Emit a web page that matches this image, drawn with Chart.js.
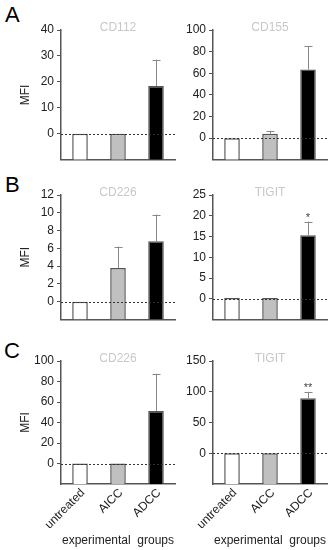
<!DOCTYPE html>
<html>
<head>
<meta charset="utf-8">
<script src="https://cdn.jsdelivr.net/npm/chart.js@4/dist/chart.umd.min.js"></script>
<style>
    body { margin: 0; background: #fff; }
    #fig { position: relative; width: 332px; height: 550px; overflow: hidden; font-family: "Liberation Sans", Arial, sans-serif; }
    .letter { position: absolute; font-size: 22px; line-height: 22px; color: #000; }
    .panel { position: absolute; }
</style>
</head>
<body>
<div id="fig">
    <div class="letter" style="left:5px;top:4px;">A</div>
    <div class="letter" style="left:5px;top:174px;">B</div>
    <div class="letter" style="left:4px;top:340px;">C</div>
    <div class="panel" style="left:0;top:0;width:180px;height:170px;"><canvas id="aLeft"></canvas></div>
    <div class="panel" style="left:180px;top:0;width:152px;height:170px;"><canvas id="aRight"></canvas></div>
    <div class="panel" style="left:0;top:170px;width:180px;height:170px;"><canvas id="bLeft"></canvas></div>
    <div class="panel" style="left:180px;top:170px;width:152px;height:170px;"><canvas id="bRight"></canvas></div>
    <div class="panel" style="left:0;top:340px;width:180px;height:210px;"><canvas id="cLeft"></canvas></div>
    <div class="panel" style="left:180px;top:340px;width:152px;height:210px;"><canvas id="cRight"></canvas></div>
</div>
<script>
const groups = ['untreated', 'AICC', 'ADCC'];
const barColors = ['#ffffff', '#c0c0c0', '#000000'];

// mean MFI and upper SD per group
const cd112Mean = [0, 0, 18.4];
const cd112Err = [0, 0, 10.2];
const cd155Mean = [0, 4.1, 63.4];
const cd155Err = [0, 2.7, 21.9];
const cd226Mean = [0, 3.8, 6.8];
const cd226Err = [0, 2.4, 3.0];
const tigitMean = [0.2, 0.2, 15.3];
const tigitErr = [0, 0, 3.3];
const cd226cMean = [0, 0, 51.2];
const cd226cErr = [0, 0, 36.4];
const tigitcMean = [0, 0, 89.3];
const tigitcErr = [0, 0, 10.7];

const tigitSig = ['', '', '*'];
const tigitcSig = ['', '', '**'];

const FONT = '"Liberation Sans", Arial, sans-serif';

const overlayPlugin = {
    id: 'overlay',
    afterDatasetsDraw(chart) {
        const { ctx, chartArea } = chart;
        const x = chart.scales.x;
        const y = chart.scales.y;
        const ds = chart.data.datasets[0];
        const meta = chart.getDatasetMeta(0);
        const po = chart.options.plugins.overlay;

        // dotted zero line
        const y0 = y.getPixelForValue(0);
        ctx.save();
        ctx.strokeStyle = '#333';
        ctx.lineWidth = 1;
        ctx.setLineDash([2, 2]);
        ctx.beginPath();
        ctx.moveTo(chartArea.left, Math.round(y0) + 0.5);
        ctx.lineTo(chartArea.right, Math.round(y0) + 0.5);
        ctx.stroke();
        ctx.setLineDash([]);

        // error bars
        ctx.strokeStyle = '#888';
        meta.data.forEach((bar, i) => {
            const err = ds.errors[i];
            const yTop = y.getPixelForValue(ds.data[i] + err);
            if (err > 0) {
                const bx = Math.round(bar.x) + 0.5;
                ctx.beginPath();
                ctx.moveTo(bx, bar.y);
                ctx.lineTo(bx, yTop);
                ctx.moveTo(bx - 4, Math.round(yTop) + 0.5);
                ctx.lineTo(bx + 4, Math.round(yTop) + 0.5);
                ctx.stroke();
            }
            if (ds.sig && ds.sig[i]) {
                ctx.fillStyle = '#444';
                ctx.font = '11px ' + FONT;
                ctx.textAlign = 'center';
                ctx.textBaseline = 'alphabetic';
                ctx.fillText(ds.sig[i], bar.x, yTop - 1);
            }
        });

        // slanted group labels
        if (po.slanted) {
            ctx.fillStyle = '#222';
            ctx.font = '12px ' + FONT;
            ctx.textAlign = 'right';
            ctx.textBaseline = 'middle';
            chart.data.labels.forEach((lab, i) => {
                ctx.save();
                ctx.translate(x.getPixelForTick(i) + 3, chartArea.bottom + 7);
                ctx.rotate(-Math.PI / 4);
                ctx.fillText(lab, 0, 0);
                ctx.restore();
            });
        }

        // panel title
        ctx.fillStyle = '#c8c8c8';
        ctx.font = '12px ' + FONT;
        ctx.textAlign = 'center';
        ctx.textBaseline = 'middle';
        ctx.fillText(po.title, (chartArea.left + chartArea.right) / 2, chartArea.top - 2.5);
        ctx.restore();
    },
};

function makePanel(canvasId, title, means, errors, sig, yMin, yMax, step, opts) {
    const canvas = document.getElementById(canvasId);
    return new Chart(canvas, {
        type: 'bar',
        data: {
            labels: groups,
            datasets: [{
                data: means,
                errors: errors,
                sig: sig,
                base: yMin,
                backgroundColor: barColors,
                borderColor: '#555',
                borderWidth: 1.5,
                categoryPercentage: 1,
                barPercentage: 0.41,
            }],
        },
        options: {
            responsive: true,
            maintainAspectRatio: false,
            animation: false,
            layout: {
                padding: { top: opts.padTop, right: 5, bottom: 0, left: 0 },
            },
            plugins: {
                legend: { display: false },
                tooltip: { enabled: false },
                overlay: { title: title, slanted: opts.showX },
            },
            scales: {
                x: {
                    grid: { display: false },
                    border: { display: true, color: '#555', width: 1.5 },
                    ticks: { display: false },
                    title: {
                        display: opts.showX,
                        text: 'experimental  groups',
                        color: '#222',
                        font: { family: FONT, size: 12 },
                        padding: { top: 2, bottom: 2 },
                    },
                    afterFit: (scale) => { scale.height = opts.xHeight; },
                },
                y: {
                    min: yMin,
                    max: yMax,
                    ticks: {
                        stepSize: step,
                        color: '#222',
                        font: { family: FONT, size: 12 },
                        padding: 3,
                    },
                    afterBuildTicks: (scale) => {
                        scale.ticks = scale.ticks.filter((t) => t.value >= 0);
                    },
                    grid: { display: true, drawOnChartArea: false, drawTicks: true, tickLength: 4, color: '#555' },
                    border: { display: true, color: '#555', width: 1.5 },
                    title: {
                        display: opts.showMfi,
                        text: 'MFI',
                        color: '#222',
                        font: { family: FONT, size: 12 },
                        padding: { top: 18, bottom: 0 },
                    },
                    afterFit: (scale) => { scale.width = opts.yWidth; },
                },
            },
        },
        plugins: [overlayPlugin],
    });
}

const leftA = { padTop: 30, xHeight: 6.5, showX: false, showMfi: true, yWidth: 61 };
const rightA = { padTop: 30, xHeight: 6.5, showX: false, showMfi: false, yWidth: 33 };
const leftB = { padTop: 25, xHeight: 20.5, showX: false, showMfi: true, yWidth: 61 };
const rightB = { padTop: 25, xHeight: 20.5, showX: false, showMfi: false, yWidth: 33 };
const leftC = { padTop: 21, xHeight: 66, showX: true, showMfi: true, yWidth: 61 };
const rightC = { padTop: 21, xHeight: 66, showX: true, showMfi: false, yWidth: 33 };

makePanel('aLeft', 'CD112', cd112Mean, cd112Err, null, -10, 40, 10, leftA);
makePanel('aRight', 'CD155', cd155Mean, cd155Err, null, -20, 100, 20, rightA);
makePanel('bLeft', 'CD226', cd226Mean, cd226Err, null, -2, 12, 2, leftB);
makePanel('bRight', 'TIGIT', tigitMean, tigitErr, tigitSig, -5, 25, 5, rightB);
makePanel('cLeft', 'CD226', cd226cMean, cd226cErr, null, -20, 100, 20, leftC);
makePanel('cRight', 'TIGIT', tigitcMean, tigitcErr, tigitcSig, -50, 150, 50, rightC);
</script>
</body>
</html>
